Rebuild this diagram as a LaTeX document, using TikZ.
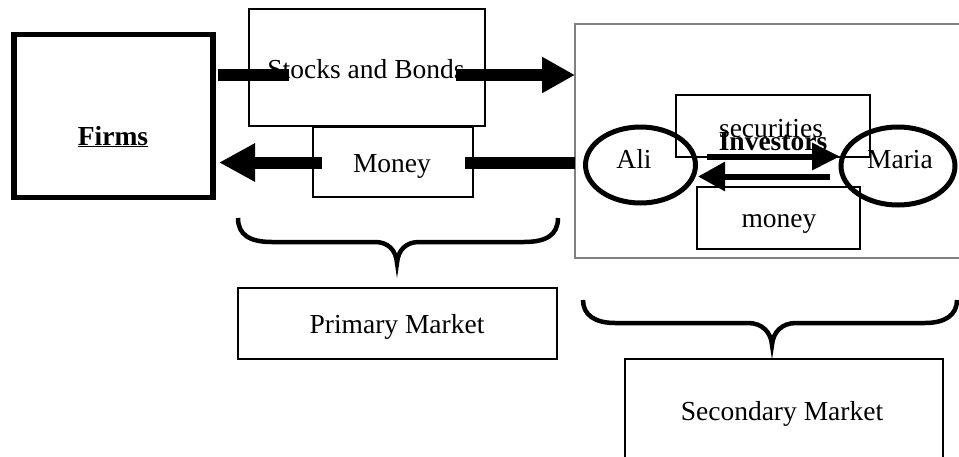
\documentclass[tikz,border=0pt]{standalone}
\usepackage{fontspec}
\setmainfont{Liberation Serif}
\usetikzlibrary{arrows.meta,shapes.geometric}
\tikzset{
  box/.style={draw=black, line width=1.2pt, inner sep=0pt},
  txt/.style={anchor=base, inner sep=0pt, font=\fontsize{27.5}{32}\selectfont},
  bar/.style={line width=12pt, draw=black},
  thinbar/.style={line width=6pt, draw=black},
  brace/.style={line width=4.5pt, draw=black, line join=miter},
  oval/.style={ellipse, draw=black, line width=5pt, inner sep=0pt}
}
\begin{document}
\begin{tikzpicture}[x=1pt,y=-1pt]
\useasboundingbox (0,0) rectangle (959,456);
\clip (0,0) rectangle (959,456);
% boxes
\node[box, line width=5.5pt, minimum width=199pt, minimum height=162.6pt] (firms) at (113.7,116) {};
\node[box, minimum width=236pt, minimum height=117pt] (sb) at (367,67.5) {};
\node[box, minimum width=160pt, minimum height=70pt] (money) at (393,162) {};
\node[box, draw=black!50, line width=1.4pt, minimum width=400pt, minimum height=234pt] (inv) at (775,141) {};
\node[box, minimum width=194pt, minimum height=62pt] (sec) at (773,126) {};
\node[box, minimum width=163pt, minimum height=62pt] (mon2) at (778.5,218) {};
\node[box, minimum width=319pt, minimum height=71pt] (prim) at (397.5,323.5) {};
\node[box, minimum width=318pt, minimum height=111pt] (secm) at (784,414.5) {};
\node[oval, minimum width=110pt, minimum height=76pt] (ali) at (640.5,165) {};
\node[oval, minimum width=114pt, minimum height=78pt] (maria) at (898,166) {};
% texts
\node[txt] (firmsT) at (113,145) {\underline{\textbf{Firms}}};
\node[txt] (sbT) at (366,78) {Stocks and Bonds};
\node[txt] (moneyT) at (392,172) {Money};
\node[txt] (secT) at (771,137) {securities};
\node[txt] (invT) at (773,150) {\textbf{Investors}};
\node[txt] (aliT) at (634,168) {Ali};
\node[txt] (mariaT) at (900,168) {Maria};
\node[txt] (mon2T) at (779,227) {money};
\node[txt] (primT) at (397,333) {Primary Market};
\node[txt] (secmT) at (782,420) {Secondary Market};
% arrow coordinates
\coordinate (a1) at (218,75);
\coordinate (a2) at (289,75);
\coordinate (a3) at (456,75);
\coordinate (a4) at (575,75);
\coordinate (b1) at (575,162.5);
\coordinate (b2) at (465,162.5);
\coordinate (b3) at (322,162.5);
\coordinate (b4) at (219,162.5);
\coordinate (c1) at (707,156.5);
\coordinate (c2) at (840,156.5);
\coordinate (d1) at (830,176.5);
\coordinate (d2) at (698,176.5);
% arrows
\draw[bar] (a1) -- (a2);
\draw[bar, -{Triangle[length=33pt,width=34pt]}] (a3) -- (a4);
\draw[bar] (b1) -- (b2);
\draw[bar, -{Triangle[length=36pt,width=36pt]}] (b3) -- (b4);
\draw[thinbar, -{Triangle[length=28pt,width=26pt]}] (c1) -- (c2);
\draw[thinbar, -{Triangle[length=27pt,width=28pt]}] (d1) -- (d2);
% braces
\draw[brace] (238,218) .. controls (238,235) and (250,242) .. (272,242) -- (375,242)
  .. controls (388,242) and (396,250) .. (397,263)
  .. controls (398,250) and (406,242) .. (419,242) -- (524,242)
  .. controls (546,242) and (558,235) .. (558,218);
\draw[brace] (583,300) .. controls (583,315) and (595,323) .. (615,323) -- (748,323)
  .. controls (762,323) and (771,332) .. (772,345)
  .. controls (773,332) and (782,323) .. (796,323) -- (925,323)
  .. controls (945,323) and (957,315) .. (957,300);
\end{tikzpicture}
\end{document}
